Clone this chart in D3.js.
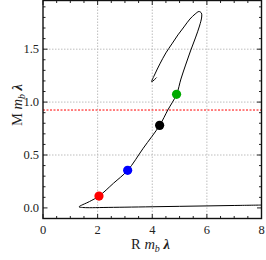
<!DOCTYPE html>
<html><head><meta charset="utf-8">
<script src="https://cdn.jsdelivr.net/npm/d3@7"></script>
<style>body{margin:0;background:#fff}svg{display:block}</style>
</head><body>
<svg id="c" width="266" height="260"></svg>
<script>
const xTicks = [0, 2, 4, 6, 8];
const xTickLabels = ["0", "2", "4", "6", "8"];
const yTicks = [0.0, 0.5, 1.0, 1.5];
const yTickLabels = ["0.0", "0.5", "1.0", "1.5"];
const xGrid = [2, 4, 6];
const yGrid = [0.5, 1.0, 1.5];

// curve (R, M) traced along the path
const curveR = [8.0, 7.0, 6.0, 5.0, 4.0, 3.0, 2.2, 1.7, 1.45, 1.32, 1.7, 2.05, 2.58, 3.10, 3.67, 4.27, 4.57, 4.89, 5.05, 5.22, 5.40, 5.58, 5.73, 5.81, 5.80, 5.71, 5.57, 5.38, 5.16, 4.94, 4.72, 4.50, 4.28, 4.10, 3.98, 4.16];
const curveM = [0.027, 0.023, 0.019, 0.015, 0.011, 0.007, 0.004, 0.002, 0.004, 0.010, 0.060, 0.112, 0.233, 0.355, 0.564, 0.780, 0.925, 1.073, 1.218, 1.350, 1.483, 1.606, 1.719, 1.804, 1.841, 1.856, 1.832, 1.785, 1.710, 1.635, 1.550, 1.465, 1.361, 1.266, 1.192, 1.232];

const dotR = [2.05, 3.10, 4.27, 4.89];
const dotM = [0.112, 0.355, 0.780, 1.073];
const dotColors = ["#ff0000", "#0000ff", "#000000", "#00aa00"];

const threshold = 0.925;

const svg = d3.select("#c");
const L = 43, R = 261.5, T = 0.5, B = 218.5;
const x = d3.scaleLinear().domain([0, 8]).range([L, R]);
const y = d3.scaleLinear().domain([-0.1, 1.96]).range([B, T]);
const font = "'Liberation Serif', 'DejaVu Serif', serif";

// grid
svg.append("g").selectAll("line").data(xGrid).join("line")
  .attr("x1", d => x(d)).attr("x2", d => x(d)).attr("y1", T).attr("y2", B)
  .attr("stroke", "#bdbdbd").attr("stroke-width", 1).attr("stroke-dasharray", "1.5,1.5");
svg.append("g").selectAll("line").data(yGrid).join("line")
  .attr("y1", d => y(d)).attr("y2", d => y(d)).attr("x1", L).attr("x2", R)
  .attr("stroke", "#bdbdbd").attr("stroke-width", 1).attr("stroke-dasharray", "1.5,1.5");

// threshold line
svg.append("line").attr("x1", L).attr("x2", R).attr("y1", y(threshold)).attr("y2", y(threshold))
  .attr("stroke", "#ff0000").attr("stroke-width", 1).attr("stroke-dasharray", "2,1.5");

// curve
const pts = curveR.map((r, i) => [r, curveM[i]]);
const line = d3.line().x(d => x(d[0])).y(d => y(d[1])).curve(d3.curveCatmullRom.alpha(0.5));
svg.append("path").attr("d", line(pts)).attr("fill", "none").attr("stroke", "#000").attr("stroke-width", 1);

// dots
svg.append("g").selectAll("circle").data(dotR).join("circle")
  .attr("cx", d => x(d)).attr("cy", (d, i) => y(dotM[i])).attr("r", 4.6)
  .attr("fill", (d, i) => dotColors[i]);

// ticks (inward, all four sides)
const xMinor = d3.range(0, 8.01, 0.5).filter(v => xTicks.indexOf(v) < 0);
const yMinor = d3.range(-0.1, 1.96, 0.1).map(v => Math.round(v * 10) / 10).filter(v => yTicks.indexOf(v) < 0);
const tg = svg.append("g").attr("stroke", "#222").attr("stroke-width", 1);
function xt(vals, len) {
  vals.forEach(v => {
    tg.append("line").attr("x1", x(v)).attr("x2", x(v)).attr("y1", B).attr("y2", B - len);
    tg.append("line").attr("x1", x(v)).attr("x2", x(v)).attr("y1", T).attr("y2", T + len);
  });
}
function yt(vals, len) {
  vals.forEach(v => {
    tg.append("line").attr("y1", y(v)).attr("y2", y(v)).attr("x1", L).attr("x2", L + len);
    tg.append("line").attr("y1", y(v)).attr("y2", y(v)).attr("x1", R).attr("x2", R - len);
  });
}
xt(xTicks, 4.5); xt(xMinor, 2.5);
yt(yTicks, 4.5); yt(yMinor, 2.5);

// frame
svg.append("rect").attr("x", L).attr("y", T).attr("width", R - L).attr("height", B - T)
  .attr("fill", "none").attr("stroke", "#111").attr("stroke-width", 1.4);

// tick labels
svg.append("g").selectAll("text").data(xTicks).join("text")
  .attr("x", d => x(d)).attr("y", 233.5).attr("text-anchor", "middle")
  .attr("font-family", font).attr("font-size", 12.5).attr("fill", "#222")
  .text((d, i) => xTickLabels[i]);
svg.append("g").selectAll("text").data(yTicks).join("text")
  .attr("x", 39).attr("y", d => y(d) + 4.3).attr("text-anchor", "end")
  .attr("font-family", font).attr("font-size", 12.5).attr("fill", "#222")
  .text((d, i) => yTickLabels[i]);

// axis labels
function label(g, first) {
  g.append("tspan").text(first + " ");
  g.append("tspan").attr("font-style", "italic").text("m");
  g.append("tspan").attr("font-style", "italic").attr("font-size", 10).attr("dy", 3).text("b");
  g.append("tspan").attr("dy", -3).text(" ");
  g.append("tspan").attr("font-style", "italic").attr("font-weight", "bold").text("λ");
}
const xl = svg.append("text").attr("x", 150.5).attr("y", 248.5).attr("text-anchor", "middle")
  .attr("font-family", font).attr("font-size", 14.5).attr("fill", "#222");
label(xl, "R");
const yl = svg.append("text").attr("transform", "translate(21.5,105) rotate(-90)").attr("text-anchor", "middle")
  .attr("font-family", font).attr("font-size", 14.5).attr("fill", "#222");
label(yl, "M");
</script>
</body></html>
